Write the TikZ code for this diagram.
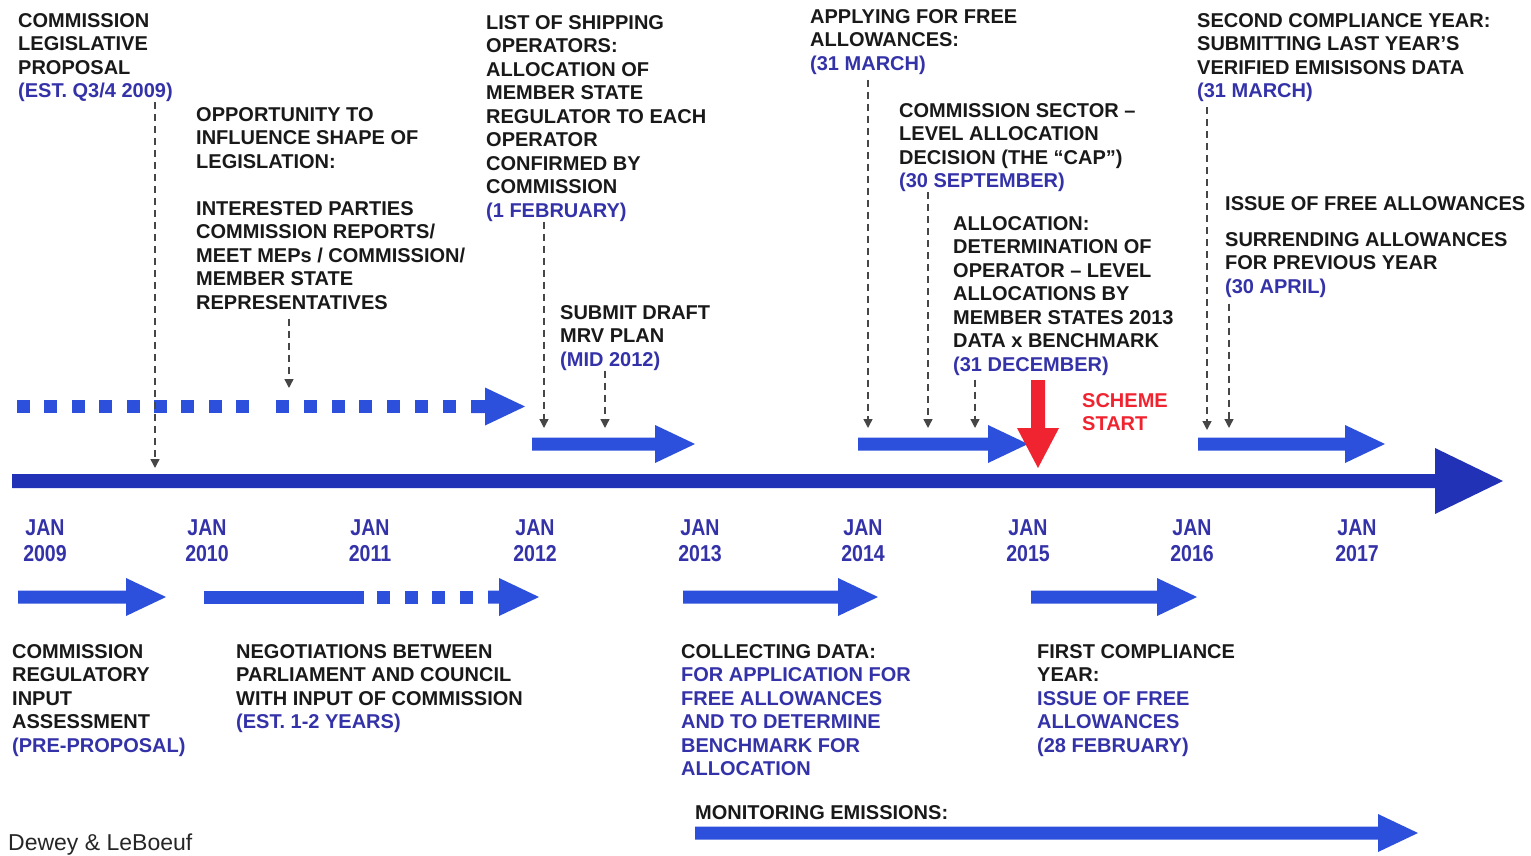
\documentclass[tikz,border=0pt]{standalone}
\usepackage{fontspec}
\setmainfont{Liberation Sans}
\newfontfamily\narrowfont[FakeStretch=0.85]{Liberation Sans}
\usetikzlibrary{arrows.meta}

\definecolor{axisblue}{RGB}{34,50,182}
\definecolor{barblue}{RGB}{44,80,220}
\definecolor{datecol}{RGB}{52,50,168}
\definecolor{startred}{RGB}{240,36,48}
\definecolor{tickgray}{RGB}{70,70,70}

\tikzset{
  notetext/.style={anchor=north west,inner sep=0pt,align=left,font=\bfseries\fontsize{20}{23.5}\selectfont,text=black!90},
  pointer/.style={tickgray,line width=1.4pt,dash pattern=on 7pt off 5pt,-{Triangle[width=9pt,length=9pt]}},
  yearmark/.style={anchor=north,inner sep=0pt,align=center,font=\narrowfont\bfseries\fontsize{23}{26}\selectfont,text=datecol}
}
\newcommand{\dt}[1]{\textcolor{datecol}{#1}}
\newcommand{\fatarrow}[4][barblue]{\fill[#1] (#2,#4-6.5) -- (#3-40,#4-6.5) -- (#3-40,#4-19) -- (#3,#4) -- (#3-40,#4+19) -- (#3-40,#4+6.5) -- (#2,#4+6.5) -- cycle;}

\begin{document}
\begin{tikzpicture}[x=1pt,y=-1pt]
\useasboundingbox (0,0) rectangle (1531,856);

\fill[axisblue] (12,474) -- (1435,474) -- (1435,448) -- (1503,481) -- (1435,514) -- (1435,488) -- (12,488) -- cycle;

\foreach \i in {0,...,8} \fill[barblue] (17+27.4*\i,400) rectangle +(13,13);
\foreach \i in {0,...,6} \fill[barblue] (276+27.8*\i,400) rectangle +(13,13);
\fatarrow{471}{525}{406.5}

\fatarrow{532}{695}{444}
\fatarrow{858}{1028}{444}
\fatarrow{1198}{1385}{444}

\fatarrow{18}{166}{597}
\fill[barblue] (204,590.5) rectangle (364,603.5);
\foreach \x in {377,405,432,460} \fill[barblue] (\x,590.5) rectangle +(13,13);
\fatarrow{488}{539}{597}
\fatarrow{683}{878}{597}
\fatarrow{1031}{1197}{597}

\fatarrow{695}{1418}{833}

\fill[startred] (1031,380) -- (1045,380) -- (1045,428) -- (1059,428) -- (1038,468) -- (1017,428) -- (1031,428) -- cycle;
\node[notetext,text=startred] (start) at (1082,393) {SCHEME\\START};

\foreach \yr/\x in {2009/45,2010/207,2011/370,2012/535,2013/700,2014/863,2015/1028,2016/1192,2017/1357}
  \node[yearmark] (y\yr) at (\x,519) {JAN\\\yr};

\node[notetext] (prop) at (18,13) {COMMISSION\\LEGISLATIVE\\PROPOSAL\\\dt{(EST. Q3/4 2009)}};
\node[notetext] (infl) at (196,107) {OPPORTUNITY TO\\INFLUENCE SHAPE OF\\LEGISLATION:\\[23.5pt]INTERESTED PARTIES\\COMMISSION REPORTS/\\MEET MEPs / COMMISSION/\\MEMBER STATE\\REPRESENTATIVES};
\node[notetext] (ship) at (486,15) {LIST OF SHIPPING\\OPERATORS:\\ALLOCATION OF\\MEMBER STATE\\REGULATOR TO EACH\\OPERATOR\\CONFIRMED BY\\COMMISSION\\\dt{(1 FEBRUARY)}};
\node[notetext] (mrv) at (560,305) {SUBMIT DRAFT\\MRV PLAN\\\dt{(MID 2012)}};
\node[notetext] (apply) at (810,9) {APPLYING FOR FREE\\ALLOWANCES:\\\dt{(31 MARCH)}};
\node[notetext] (cap) at (899,103) {COMMISSION SECTOR –\\LEVEL ALLOCATION\\DECISION (THE “CAP”)\\\dt{(30 SEPTEMBER)}};
\node[notetext] (alloc) at (953,216) {ALLOCATION:\\DETERMINATION OF\\OPERATOR – LEVEL\\ALLOCATIONS BY\\MEMBER STATES 2013\\DATA x BENCHMARK\\\dt{(31 DECEMBER)}};
\node[notetext] (second) at (1197,13) {SECOND COMPLIANCE YEAR:\\SUBMITTING LAST YEAR’S\\VERIFIED EMISISONS DATA\\\dt{(31 MARCH)}};
\node[notetext] (issue) at (1225,196) {ISSUE OF FREE ALLOWANCES};
\node[notetext] (surr) at (1225,232) {SURRENDING ALLOWANCES\\FOR PREVIOUS YEAR\\\dt{(30 APRIL)}};

\node[notetext] (assess) at (12,644) {COMMISSION\\REGULATORY\\INPUT\\ASSESSMENT\\\dt{(PRE-PROPOSAL)}};
\node[notetext] (nego) at (236,644) {NEGOTIATIONS BETWEEN\\PARLIAMENT AND COUNCIL\\WITH INPUT OF COMMISSION\\\dt{(EST. 1-2 YEARS)}};
\node[notetext] (collect) at (681,644) {COLLECTING DATA:\\\dt{FOR APPLICATION FOR}\\\dt{FREE ALLOWANCES}\\\dt{AND TO DETERMINE}\\\dt{BENCHMARK FOR}\\\dt{ALLOCATION}};
\node[notetext] (first) at (1037,644) {FIRST COMPLIANCE\\YEAR:\\\dt{ISSUE OF FREE}\\\dt{ALLOWANCES}\\\dt{(28 FEBRUARY)}};
\node[notetext] (mon) at (695,805) {MONITORING EMISSIONS:};
\node[anchor=base west,inner sep=0pt,font=\fontsize{23}{26}\selectfont,text=black!85] (firm) at (8,850.5) {Dewey \& LeBoeuf};

\coordinate (e1) at (155,468);
\coordinate (e2) at (289,388);
\coordinate (e3) at (544,428);
\coordinate (e4) at (605,428);
\coordinate (e5) at (868,428);
\coordinate (e6) at (928,428);
\coordinate (e7) at (975,428);
\coordinate (e8) at (1207,430);
\coordinate (e9) at (1229,428);

\draw[pointer] (prop.south -| e1) -- (e1);
\draw[pointer] ([yshift=-9pt]infl.south -| e2) -- (e2);
\draw[pointer] (ship.south -| e3) -- (e3);
\draw[pointer] (mrv.south -| e4) -- (e4);
\draw[pointer] ([yshift=-5pt]apply.south -| e5) -- (e5);
\draw[pointer] (cap.south -| e6) -- (e6);
\draw[pointer] ([yshift=-4pt]alloc.south -| e7) -- (e7);
\draw[pointer] ([yshift=-5pt]second.south -| e8) -- (e8);
\draw[pointer] ([yshift=-6pt]surr.south -| e9) -- (e9);

\end{tikzpicture}
\end{document}
